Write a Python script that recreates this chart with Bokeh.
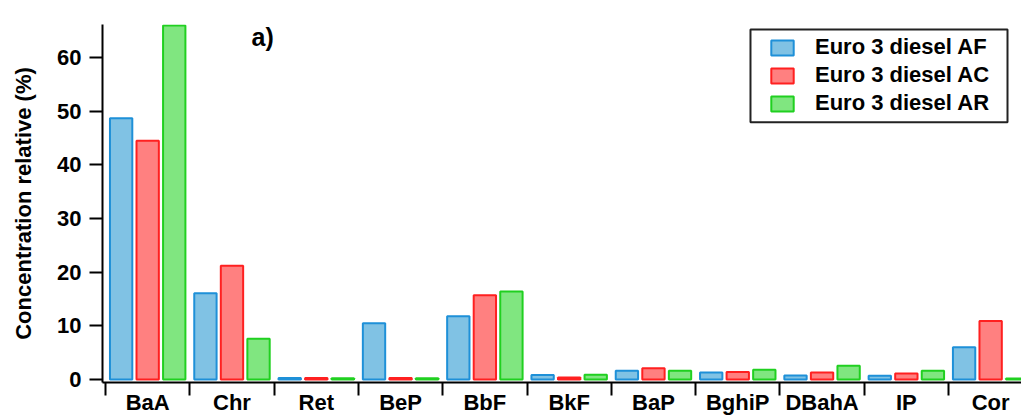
import numpy as np
from bokeh.plotting import figure
from bokeh.models import (ColumnDataSource, FixedTicker, Range1d, Legend, LegendItem, Label,
                          BoxAnnotation)
from bokeh.transform import dodge
from bokeh.embed import file_html
from bokeh.resources import INLINE

categories = ["BaA", "Chr", "Ret", "BeP", "BbF", "BkF", "BaP", "BghiP", "DBahA", "IP", "Cor"]
af = [48.7, 16.1, 0.3, 10.5, 11.8, 0.85, 1.65, 1.3, 0.75, 0.7, 6.0]
ac = [44.5, 21.2, 0.3, 0.3, 15.7, 0.35, 2.1, 1.4, 1.3, 1.1, 10.9]
ar = [66.0, 7.6, 0.25, 0.25, 16.4, 0.9, 1.65, 1.8, 2.55, 1.65, 0.2]
series_names = ["Euro 3 diesel AF", "Euro 3 diesel AC", "Euro 3 diesel AR"]
y_ticks = [0, 10, 20, 30, 40, 50, 60]

FONT = "Liberation Sans"
FS = "22px"
fills = ["#80c2e4", "#ff8080", "#80e680"]
lines = ["#1e90d8", "#ff2020", "#20d020"]
offsets = [-0.315, 0.0, 0.315]

pos = np.arange(len(categories)) + 0.5
src = ColumnDataSource(dict(x=pos, af=af, ac=ac, ar=ar))

p = figure(width=1021, height=417, output_backend="svg", toolbar_location=None,
           x_range=Range1d(-0.036, 10.866), y_range=Range1d(-0.56, 66.2),
           min_border_left=102, min_border_right=0, min_border_top=24, min_border_bottom=34)
p.xgrid.visible = False
p.ygrid.visible = False
p.outline_line_color = None

renderers = []
for col, fc, lc, off in zip(["af", "ac", "ar"], fills, lines, offsets):
    r = p.vbar(x=dodge("x", off, range=p.x_range), top=col, bottom=0, width=0.265, source=src,
               fill_color=fc, line_color=lc, line_width=2)
    renderers.append(r)

# y axis
ya = p.yaxis[0]
ya.ticker = FixedTicker(ticks=y_ticks)
ya.major_tick_out = 13
ya.major_tick_in = 0
ya.minor_tick_out = 0
ya.minor_tick_in = 0
ya.axis_line_width = 2
ya.major_tick_line_width = 2
ya.major_label_standoff = 8
ya.major_label_text_font = FONT
ya.major_label_text_font_style = "bold"
ya.major_label_text_font_size = FS
ya.major_label_text_color = "black"
ya.axis_label = "Concentration relative (%)"
ya.axis_label_text_font = FONT
ya.axis_label_text_font_style = "bold"
ya.axis_label_text_font_size = FS
ya.axis_label_text_color = "black"
ya.axis_label_standoff = 18

# x axis: category names at centres, boundary ticks as minor ticks
bounds = [float(v) for v in range(len(categories) + 1)]
xa = p.xaxis[0]
xa.ticker = FixedTicker(ticks=[float(v) for v in pos], minor_ticks=bounds)
xa.major_label_overrides = {float(v): c for v, c in zip(pos, categories)}
xa.major_tick_out = 0
xa.major_tick_in = 0
xa.minor_tick_out = 13
xa.minor_tick_in = 0
xa.minor_tick_line_width = 2
xa.minor_tick_line_color = "black"
xa.axis_line_width = 2
xa.major_label_standoff = -6
xa.major_label_text_font = FONT
xa.major_label_text_font_style = "bold"
xa.major_label_text_font_size = FS
xa.major_label_text_color = "black"

# legend frame
p.add_layout(BoxAnnotation(left=7.651, right=10.70, top=65.28, bottom=47.98,
                           fill_alpha=0, line_color="#222222", line_width=2, line_alpha=1))

legend = Legend(items=[LegendItem(label=n, renderers=[r]) for n, r in zip(series_names, renderers)],
                location=(666, 266))
legend.border_line_alpha = 0
legend.background_fill_alpha = 0
legend.label_text_font = FONT
legend.label_text_font_style = "bold"
legend.label_text_font_size = FS
legend.label_text_color = "black"
legend.glyph_width = 28
legend.glyph_height = 19
legend.label_standoff = 19
legend.label_height = 20
legend.spacing = 2
legend.padding = 0
legend.margin = 0
p.add_layout(legend)

p.add_layout(Label(x=1.732, y=63.84, text="a)", text_font=FONT, text_font_style="bold",
                   text_font_size="25px", text_baseline="alphabetic", text_color="black"))

open("out.html", "w").write(file_html(p, INLINE))
